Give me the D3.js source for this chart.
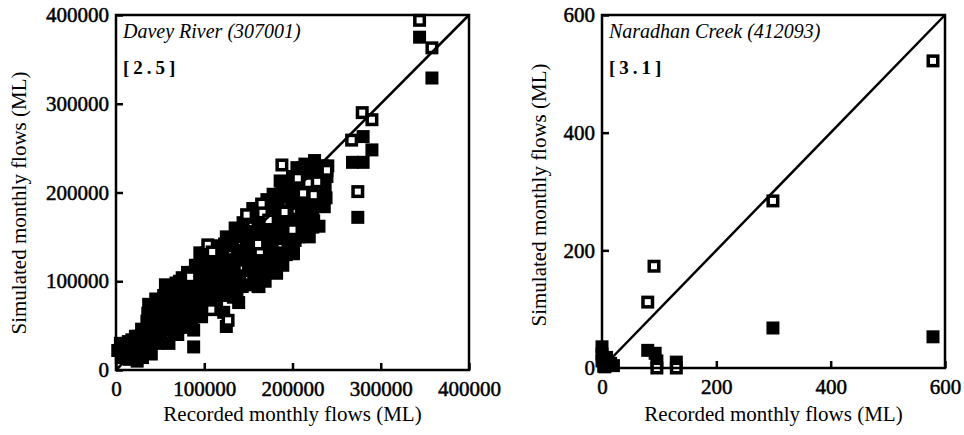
<!DOCTYPE html>
<html>
<head>
<meta charset="utf-8">
<script src="https://cdn.jsdelivr.net/npm/d3@7"></script>
<style>
  body { margin: 0; background: #fff; }
</style>
</head>
<body>
<svg id="chart" width="964" height="435"></svg>
<script>
// ---------- data (ML) ----------
// Davey River: filled squares (recorded, simulated)
var daveyFilledRec = [6000, 8000, 10000, 12000, 15000, 16000, 18000, 20000, 21000, 25000, 26000, 28000, 30000, 31000,
  34000, 35000, 37000, 38000, 40000, 41000, 44000, 45000, 47000, 48000, 50000, 51000, 54000, 55000, 57000, 58000, 60000, 61000,
  64000, 65000, 67000, 68000, 70000, 71000, 74000, 75000, 77000, 78000, 80000, 81000, 84000, 85000, 87000, 88000, 90000, 91000,
  94000, 95000, 97000, 98000, 100000, 101000, 104000, 105000, 107000, 108000, 110000, 111000, 114000, 115000, 117000, 118000,
  120000, 121000, 122000, 124000, 125000, 127000, 128000, 130000, 131000, 134000, 135000, 137000, 138000, 140000, 141000, 139000,
  144000, 145000, 147000, 148000, 150000, 151000, 149000, 154000, 155000, 157000, 158000, 160000, 161000, 162000,
  164000, 165000, 167000, 168000, 170000, 171000, 174000, 175000, 177000, 178000, 180000, 181000,
  184000, 185000, 187000, 188000, 190000, 189000, 186000, 194000, 195000, 197000, 198000, 200000, 201000, 199000,
  204000, 205000, 207000, 208000, 210000, 211000, 214000, 215000, 217000, 218000, 220000, 221000, 219000,
  224000, 225000, 227000, 228000, 230000, 231000, 236000, 237000, 239000, 240000,
  88000, 125000, 161000, 182000, 201000, 223000, 268000, 280000, 280000, 290000, 274000, 344000, 358000,
  2000, 5000, 14000, 22000, 24000, 29000, 33000, 36000, 39000, 43000, 46000, 49000, 52000, 53000, 56000, 59000, 62000, 63000,
  66000, 69000, 72000, 73000, 76000, 79000, 82000, 83000, 86000, 89000, 92000, 93000, 96000, 99000, 102000, 103000, 106000,
  109000, 112000, 113000, 116000, 119000, 123000, 126000, 129000, 132000, 133000, 136000, 142000, 143000, 146000, 152000,
  153000, 156000, 159000, 163000, 166000, 169000, 172000, 173000, 176000, 179000, 182000, 183000, 188000, 191000, 193000,
  196000, 202000, 203000, 206000, 209000, 212000, 213000, 216000, 222000, 223000, 226000, 229000, 233000, 234000, 238000];
var daveyFilledSim = [14000, 25000, 19000, 30000, 12000, 24000, 34000, 16000, 28000, 20000, 38000, 30000, 14000, 44000,
  24000, 55000, 74000, 36000, 18000, 62000, 46000, 80000, 30000, 68000, 54000, 38000, 84000, 62000, 45000, 74000, 30000, 92000,
  52000, 80000, 66000, 98000, 40000, 88000, 60000, 104000, 74000, 48000, 92000, 110000, 66000, 84000, 100000, 45000, 118000, 76000,
  92000, 132000, 60000, 108000, 80000, 122000, 98000, 70000, 136000, 112000, 88000, 126000, 76000, 104000, 140000, 118000,
  94000, 132000, 65000, 108000, 150000, 84000, 124000, 140000, 98000, 118000, 160000, 90000, 134000, 106000, 150000, 76000,
  166000, 124000, 96000, 142000, 112000, 172000, 132000, 156000, 182000, 104000, 138000, 120000, 168000, 94000,
  148000, 180000, 110000, 160000, 132000, 192000, 120000, 170000, 146000, 198000, 110000, 158000,
  188000, 132000, 170000, 210000, 148000, 118000, 213000, 178000, 140000, 200000, 158000, 218000, 132000, 188000,
  170000, 228000, 150000, 196000, 182000, 214000, 232000, 160000, 204000, 178000, 222000, 190000, 150000,
  168000, 236000, 196000, 212000, 162000, 226000, 184000, 204000, 218000, 230000,
  26000, 49000, 94000, 109000, 131000, 161000, 234000, 263000, 234000, 248000, 172000, 375000, 329000,
  22000, 30000, 32000, 38000, 10000, 46000, 36000, 64000, 48000, 70000, 58000, 78000, 46000, 70000, 96000, 56000, 70000, 86000,
  44000, 76000, 100000, 54000, 88000, 66000, 80000, 102000, 58000, 110000, 96000, 68000, 120000, 90000, 108000, 132000, 82000,
  120000, 98000, 138000, 84000, 110000, 142000, 96000, 118000, 148000, 82000, 104000, 128000, 94000, 156000, 120000,
  146000, 110000, 176000, 130000, 168000, 100000, 150000, 180000, 134000, 186000, 120000, 172000, 156000, 196000, 130000,
  164000, 206000, 146000, 188000, 160000, 228000, 172000, 214000, 200000, 178000, 186000, 220000, 196000, 230000, 194000];
// Davey River: open squares
var daveyOpenRec = [104000, 84000, 108000, 127000, 109000, 148000, 165000, 166000, 191000, 206000, 214000, 163000, 161000,
  173000, 200000, 188000, 218000, 228000, 239000, 212000, 224000, 267000, 279000, 290000, 274000, 344000, 358000];
var daveyOpenSim = [141000, 105000, 68000, 56000, 133000, 175000, 187000, 177000, 178000, 216000, 199000, 134000, 142000,
  169000, 158000, 231000, 211000, 212000, 225000, 199000, 197000, 259000, 290000, 282000, 201000, 394000, 363000];
// Naradhan Creek
var naraFilledRec = [0, 0, 0, 3, 5, 10, 15, 20, 8, 80, 93, 96, 130, 299, 579];
var naraFilledSim = [36, 24, 12, 3, 2, 5, 8, 4, 18, 30, 25, 12, 10, 68, 53];
var naraOpenRec = [579, 299, 91, 80, 96, 130];
var naraOpenSim = [522, 284, 173, 112, 0, 0];

var daveyTicks = [0, 100000, 200000, 300000, 400000];
var naraTicks = [0, 200, 400, 600];

var panels = [
  { title: "Davey River (307001)", code: "[2.5]", max: 400000, ticks: daveyTicks,
    left: 116, right: 469, top: 15, bottom: 370, ytitleX: 26, ytitleY: 203,
    filledX: daveyFilledRec, filledY: daveyFilledSim, openX: daveyOpenRec, openY: daveyOpenSim },
  { title: "Naradhan Creek (412093)", code: "[3.1]", max: 600, ticks: naraTicks,
    left: 602, right: 945, top: 15, bottom: 368, ytitleX: 546, ytitleY: 195,
    filledX: naraFilledRec, filledY: naraFilledSim, openX: naraOpenRec, openY: naraOpenSim }
];

var FONT = "'Liberation Serif', 'Times New Roman', serif";
var svg = d3.select("#chart");
var S = 13; // marker size

panels.forEach(function (p) {
  var x = d3.scaleLinear().domain([0, p.max]).range([p.left, p.right]);
  var y = d3.scaleLinear().domain([0, p.max]).range([p.bottom, p.top]);
  var g = svg.append("g");

  // markers: filled first, open on top
  var filled = p.filledX.map(function (v, i) { return [v, p.filledY[i]]; });
  var open = p.openX.map(function (v, i) { return [v, p.openY[i]]; });
  g.selectAll(".f").data(filled).enter().append("rect")
    .attr("x", function (d) { return x(d[0]) - S / 2; })
    .attr("y", function (d) { return y(d[1]) - S / 2; })
    .attr("width", S).attr("height", S)
    .attr("fill", "#000");
  g.selectAll(".o").data(open).enter().append("rect")
    .attr("x", function (d) { return x(d[0]) - S / 2 + 1.75; })
    .attr("y", function (d) { return y(d[1]) - S / 2 + 1.75; })
    .attr("width", S - 3.5).attr("height", S - 3.5)
    .attr("fill", "#fff").attr("stroke", "#000").attr("stroke-width", 3.5);

  // 1:1 line
  g.append("line")
    .attr("x1", x(0)).attr("y1", y(0))
    .attr("x2", x(p.max)).attr("y2", y(p.max))
    .attr("stroke", "#000").attr("stroke-width", 2.5);

  // frame
  g.append("rect")
    .attr("x", p.left).attr("y", p.top)
    .attr("width", p.right - p.left).attr("height", p.bottom - p.top)
    .attr("fill", "none").attr("stroke", "#000").attr("stroke-width", 2.5);

  // axes with inner ticks
  var xAxis = d3.axisBottom(x).tickValues(p.ticks).tickSize(-7).tickPadding(11).tickFormat(d3.format("d"));
  var yAxis = d3.axisLeft(y).tickValues(p.ticks).tickSize(-7).tickPadding(7).tickFormat(d3.format("d"));
  var gx = g.append("g").attr("transform", "translate(0," + p.bottom + ")").call(xAxis);
  var gy = g.append("g").attr("transform", "translate(" + p.left + ",0)").call(yAxis);
  [gx, gy].forEach(function (a) {
    a.attr("font-family", null).attr("font-size", null);
    a.select(".domain").remove();
    a.selectAll("line").attr("stroke", "#000").attr("stroke-width", 2.5);
    a.selectAll("text")
      .style("font-family", FONT).style("font-size", "21px").attr("fill", "#000")
      .attr("stroke", "#000").attr("stroke-width", 0.5);
  });

  // labels
  g.append("text")
    .attr("x", (p.left + p.right) / 2).attr("y", 421)
    .attr("text-anchor", "middle")
    .style("font-family", FONT).style("font-size", "21px")
    .text("Recorded monthly flows (ML)");
  g.append("text")
    .attr("transform", "translate(" + p.ytitleX + "," + p.ytitleY + ") rotate(-90)")
    .attr("text-anchor", "middle")
    .style("font-family", FONT).style("font-size", "21px")
    .text("Simulated monthly flows (ML)");
  g.append("text")
    .attr("x", p.left + 7).attr("y", 38)
    .style("font-family", FONT).style("font-size", "20px").style("font-style", "italic")
    .text(p.title);
  g.append("text")
    .attr("x", p.left + 7).attr("y", 74)
    .style("font-family", FONT).style("font-size", "19px").style("font-weight", "bold")
    .style("letter-spacing", "4px")
    .text(p.code);
});
</script>
</body>
</html>
